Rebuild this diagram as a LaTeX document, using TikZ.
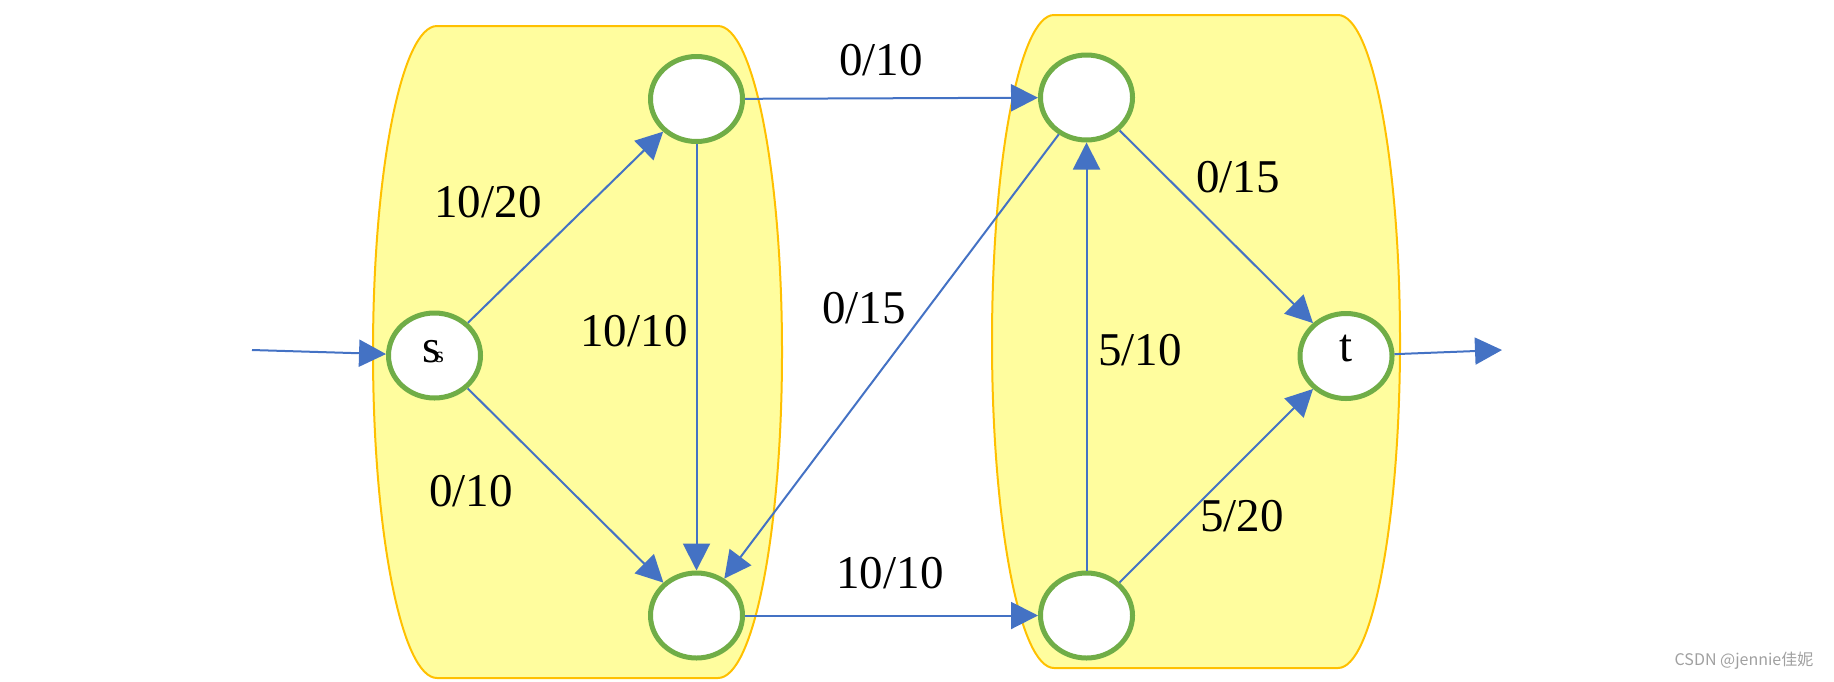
\documentclass[tikz,border=0pt]{standalone}
\usepackage{fontspec}
\setmainfont{Liberation Serif}
\newfontfamily\cjkwm{Noto Sans CJK SC}
\usetikzlibrary{arrows.meta,shapes.geometric}
\definecolor{fillyel}{HTML}{FFFD9E}
\definecolor{edgeor}{HTML}{FFC000}
\definecolor{vgreen}{HTML}{70AD47}
\definecolor{eblue}{HTML}{4472C4}
\definecolor{wmgray}{HTML}{A0A0A0}
\tikzset{
  vtx/.style={ellipse, draw=vgreen, line width=2.5pt, fill=white, minimum width=46pt, minimum height=42.5pt, inner sep=0pt},
  flow/.style={draw=eblue, line width=1pt, -{Triangle[length=13.5pt,width=13.5pt]}, color=eblue},
  lbl/.style={inner sep=0pt, font=\fontsize{23.5pt}{28pt}\selectfont},
  group/.style={fill=fillyel, draw=edgeor, line width=1pt}
}
\begin{document}
\begin{tikzpicture}[x=0.5pt,y=-0.5pt]
\useasboundingbox (0,0) rectangle (1834,681);
% groups
\path[group] (437,26) -- (718,26) .. controls (753.3,26) and (782,172) .. (782,352)
  .. controls (782,532) and (753.3,678) .. (718,678) -- (437,678)
  .. controls (401.7,678) and (373,532) .. (373,352)
  .. controls (373,172) and (401.7,26) .. (437,26) -- cycle;
\path[group] (1054,15) -- (1338,15) .. controls (1372.2,15) and (1400,161.2) .. (1400,341.5)
  .. controls (1400,521.8) and (1372.2,668) .. (1338,668) -- (1054,668)
  .. controls (1019.8,668) and (992,521.8) .. (992,341.5)
  .. controls (992,161.2) and (1019.8,15) .. (1054,15) -- cycle;
% vertices
\node[vtx] (s) at (434.5,355.5) {};
\node[vtx] (a) at (696.5,99) {};
\node[vtx] (b) at (696.5,615.5) {};
\node[vtx] (c) at (1086.5,97.5) {};
\node[vtx] (d) at (1086.5,615.5) {};
\node[vtx] (t) at (1346,356) {};
\node[lbl, anchor=base] (stext) at (433,362) {s\kern-2.5pt{\fontsize{11pt}{11pt}\selectfont s}};
\node[lbl, anchor=base] (ttext) at (1346,361) {t};
\coordinate (in) at (252,350);
\coordinate (out) at (1502,350);
% edges
\draw[flow] (in) -- (s);
\draw[flow] (t) -- (out);
\draw[flow] (s) -- (a);
\draw[flow] (s) -- (b);
\draw[flow] (a) -- (b);
\draw[flow] (a) -- (c);
\draw[flow] (c) -- (b);
\draw[flow] (b) -- (d);
\draw[flow] (d) -- (c);
\draw[flow] (c) -- (t);
\draw[flow] (d) -- (t);
% labels
\node[lbl] (l1) at (488,202) {10/20};
\node[lbl] (l2) at (471,491) {0/10};
\node[lbl] (l3) at (634,331) {10/10};
\node[lbl] (l4) at (881,60) {0/10};
\node[lbl] (l5) at (864,308) {0/15};
\node[lbl] (l6) at (890,573) {10/10};
\node[lbl] (l7) at (1238,177) {0/15};
\node[lbl] (l8) at (1140,350) {5/10};
\node[lbl] (l9) at (1242,516) {5/20};
\node[inner sep=0pt, text=wmgray, font=\cjkwm\fontsize{8pt}{9pt}\selectfont] (wm) at (1744,661) {CSDN @jennie佳妮};
\end{tikzpicture}
\end{document}
